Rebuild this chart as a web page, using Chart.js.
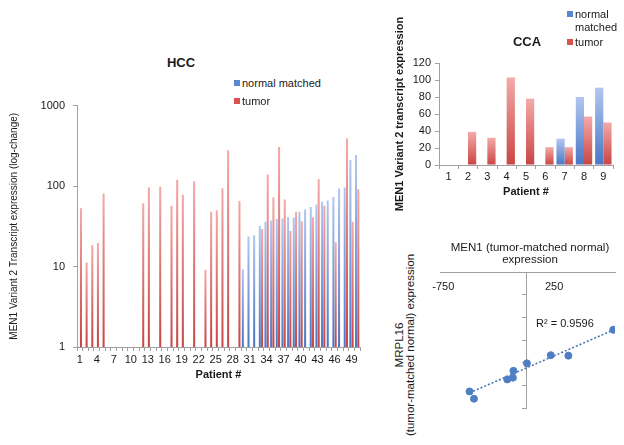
<!DOCTYPE html>
<html>
<head>
<meta charset="utf-8">
<title>MEN1 variant 2 expression</title>
<script src="https://cdn.jsdelivr.net/npm/chart.js@4.4.1/dist/chart.umd.min.js"></script>
<style>
  body { margin: 0; background: #fff; font-family: "Liberation Sans", Arial, sans-serif; color: #1a1a1a; }
  #page { position: relative; width: 624px; height: 445px; overflow: hidden; }
  canvas { position: absolute; }
  .t { position: absolute; white-space: nowrap; transform: translate(-50%, -50%); }
  .v { transform: translate(-50%, -50%) rotate(-90deg); text-align: center; }
  .key { position: absolute; font-size: 11px; line-height: 13px; white-space: nowrap; }
  .key i { display: inline-block; width: 6px; height: 6px; margin-right: 2px; vertical-align: 1px; }
  .blue { background: #5b86d2; }
  .red { background: #d9534f; }
</style>
</head>
<body>
<div id="page">
  <canvas id="hcc" width="366" height="296" style="left:0;top:91px"></canvas>
  <canvas id="cca" width="244" height="225" style="left:380px;top:0"></canvas>
  <canvas id="corr" width="204" height="215" style="left:420px;top:230px"></canvas>

  <div class="t" style="left:181px;top:62px;font-weight:bold;font-size:13px">HCC</div>
  <div class="key" style="left:234px;top:77px"><i class="blue"></i>normal matched</div>
  <div class="key" style="left:234px;top:95px"><i class="red"></i>tumor</div>

  <div class="t" style="left:527px;top:41px;font-weight:bold;font-size:13px">CCA</div>
  <div class="key" style="left:567px;top:8px"><i class="blue"></i>normal<br><span style="padding-left:8px">matched</span></div>
  <div class="key" style="left:567px;top:36px"><i class="red"></i>tumor</div>

  <div class="t" style="left:530px;top:253px;font-size:11.5px;line-height:12px;text-align:center">MEN1 (tumor-matched normal)<br>expression</div>
  <div class="t v" style="left:405px;top:345px;font-size:11.5px;line-height:11px">MRPL16<br>(tumor-matched normal) expression</div>
  <div class="key" style="left:536px;top:317px">R² = 0.9596</div>
</div>

<script>
// HCC: MEN1 variant 2 per patient, log-change (null = no bar)
const hccPatients = Array.from({ length: 50 }, (_, i) => String(i + 1));
const hccNormal = [
  null, null, null, null, null, null, null, null, null, null,
  null, null, null, null, null, null, null, null, null, null,
  null, null, null, null, null, null, null, null, null, 9.2,
  23.7, 24.4, 31.9, 36, 37.3, 39, 39.5, 41.4, 40.7, 48,
  51, 55, 59, 64, 66, 73, 93, 96, 211, 243,
];
const hccTumor = [
  53, 11.2, 18.4, 19.6, 81, null, null, null, null, null,
  null, 61, 96, null, 98, null, 57, 120, 78, null,
  115, null, 9.1, 48, 50, 94, 279, null, 65, null,
  null, null, 29.3, 139, 72, 305, 68, 27.7, 48, 36.6,
  null, 41, 122, 57, null, 20, null, 393, 36, 91,
];
const hccTicks = [1, 10, 100, 1000];

// CCA: 9 patients, linear scale
const ccaPatients = ['1', '2', '3', '4', '5', '6', '7', '8', '9'];
const ccaNormal = [null, null, null, null, null, null, 31, 80, 91];
const ccaTumor = [null, 39, 32, 103, 78, 21, 21, 57, 50];

// MEN1 vs MRPL16 (tumor-matched normal)
const menX = [784, 379, 220, 5, -117, -122, -173, -513, -473];
const mrplY = [-255, -369, -367, -403, -436, -466, -474, -527, -559];
const trendX = [-513, 784];
const trendY = [-533, -256];
const corrXTicks = [-750, 250];

const AXIS = '#a0a0a0';
const BLUE_LIGHT = '#b2c7f0', BLUE_DARK = '#4a76c4';
const RED_LIGHT = '#f4aaa8', RED_DARK = '#c84543';
const DOT = '#4f7ec4';

Chart.defaults.font.family = "'Liberation Sans', Arial, sans-serif";
Chart.defaults.color = '#1a1a1a';
Chart.defaults.animation = false;
Chart.defaults.plugins.legend.display = false;
Chart.defaults.plugins.tooltip.enabled = false;

// each bar gets its own light-top / dark-bottom gradient
function barFill(light, dark) {
  return function (ctx) {
    const chart = ctx.chart;
    const area = chart.chartArea;
    const v = ctx.parsed ? ctx.parsed.y : null;
    if (!area || v == null || !isFinite(v)) return dark;
    const top = chart.scales.y.getPixelForValue(v);
    const g = chart.ctx.createLinearGradient(0, top, 0, area.bottom);
    g.addColorStop(0, light);
    g.addColorStop(1, dark);
    return g;
  };
}

// HCC chart
new Chart(document.getElementById('hcc'), {
  type: 'bar',
  data: {
    labels: hccPatients,
    datasets: [
      { label: 'normal matched', data: hccNormal, backgroundColor: barFill(BLUE_LIGHT, BLUE_DARK), categoryPercentage: 0.8, barPercentage: 0.9 },
      { label: 'tumor', data: hccTumor, backgroundColor: barFill(RED_LIGHT, RED_DARK), categoryPercentage: 0.8, barPercentage: 0.9 },
    ],
  },
  options: {
    responsive: false,
    layout: { padding: { top: 8, right: 6, left: 0, bottom: 0 } },
    scales: {
      x: {
        grid: { drawOnChartArea: false, tickLength: 4, color: AXIS },
        border: { color: AXIS },
        ticks: {
          autoSkip: false,
          maxRotation: 0,
          padding: 2,
          font: { size: 11 },
          callback: (v, i) => (i % 3 === 0 ? hccPatients[i] : ''),
        },
        title: { display: true, text: 'Patient #', font: { size: 11, weight: 'bold' }, padding: { top: 0, bottom: 5 } },
        afterFit: (s) => { s.height = 40; },
      },
      y: {
        type: 'logarithmic',
        min: 1,
        max: 1000,
        afterBuildTicks: (s) => { s.ticks = hccTicks.map((v) => ({ value: v })); },
        grid: { drawOnChartArea: false, tickLength: 4, color: AXIS },
        border: { color: AXIS },
        ticks: { padding: 8, font: { size: 11 }, callback: (v) => String(v) },
        title: { display: true, text: 'MEN1 Variant 2 Transcript expression (log-change)', font: { size: 10 }, padding: { top: 8, bottom: 0 } },
        afterFit: (s) => { s.width = 77; },
      },
    },
  },
});

// CCA chart
new Chart(document.getElementById('cca'), {
  type: 'bar',
  data: {
    labels: ccaPatients,
    datasets: [
      { label: 'normal matched', data: ccaNormal, backgroundColor: barFill(BLUE_LIGHT, BLUE_DARK), categoryPercentage: 0.85, barPercentage: 1 },
      { label: 'tumor', data: ccaTumor, backgroundColor: barFill(RED_LIGHT, RED_DARK), categoryPercentage: 0.85, barPercentage: 1 },
    ],
  },
  options: {
    responsive: false,
    layout: { padding: { top: 63, right: 11, left: 0, bottom: 24 } },
    scales: {
      x: {
        grid: { drawOnChartArea: false, tickLength: 4, color: AXIS },
        border: { color: AXIS },
        ticks: { maxRotation: 0, padding: 1, font: { size: 11 } },
        title: { display: true, text: 'Patient #', font: { size: 11, weight: 'bold' }, padding: { top: 0, bottom: 2 } },
        afterFit: (s) => { s.height = 36; },
      },
      y: {
        min: 0,
        max: 120,
        grid: { drawOnChartArea: false, tickLength: 4, color: AXIS },
        border: { color: AXIS },
        ticks: { stepSize: 20, padding: 4, font: { size: 11 } },
        title: { display: true, text: 'MEN1 Variant 2 transcript expression', font: { size: 11, weight: 'bold' }, padding: { top: 13, bottom: 0 } },
        afterFit: (s) => { s.width = 59; },
      },
    },
  },
});

// correlation scatter, axes cross at 0
new Chart(document.getElementById('corr'), {
  type: 'scatter',
  data: {
    datasets: [
      {
        data: menX.map((x, i) => ({ x: x, y: mrplY[i] })),
        backgroundColor: DOT,
        borderColor: DOT,
        pointRadius: 3.5,
      },
      {
        data: trendX.map((x, i) => ({ x: x, y: trendY[i] })),
        showLine: true,
        borderColor: '#3f6fb5',
        borderWidth: 1.5,
        borderDash: [2, 2],
        pointRadius: 0,
      },
    ],
  },
  options: {
    responsive: false,
    layout: { padding: { left: 20, right: 9, top: 42, bottom: 37 } },
    scales: {
      x: {
        type: 'linear',
        min: -780,
        max: 800,
        position: { y: 0 },
        afterBuildTicks: (s) => { s.ticks = corrXTicks.map((v) => ({ value: v })); },
        grid: { drawOnChartArea: false, drawTicks: false },
        border: { color: AXIS },
        ticks: { padding: 8, font: { size: 11 }, color: '#1a1a1a' },
        afterFit: (s) => { s.height = 0; },
      },
      y: {
        min: -600,
        max: 0,
        position: { x: 0 },
        grid: { drawOnChartArea: false, tickLength: 4, color: AXIS },
        border: { color: AXIS },
        ticks: { display: false, stepSize: 100 },
        afterFit: (s) => { s.width = 0; },
      },
    },
  },
});
</script>
</body>
</html>
